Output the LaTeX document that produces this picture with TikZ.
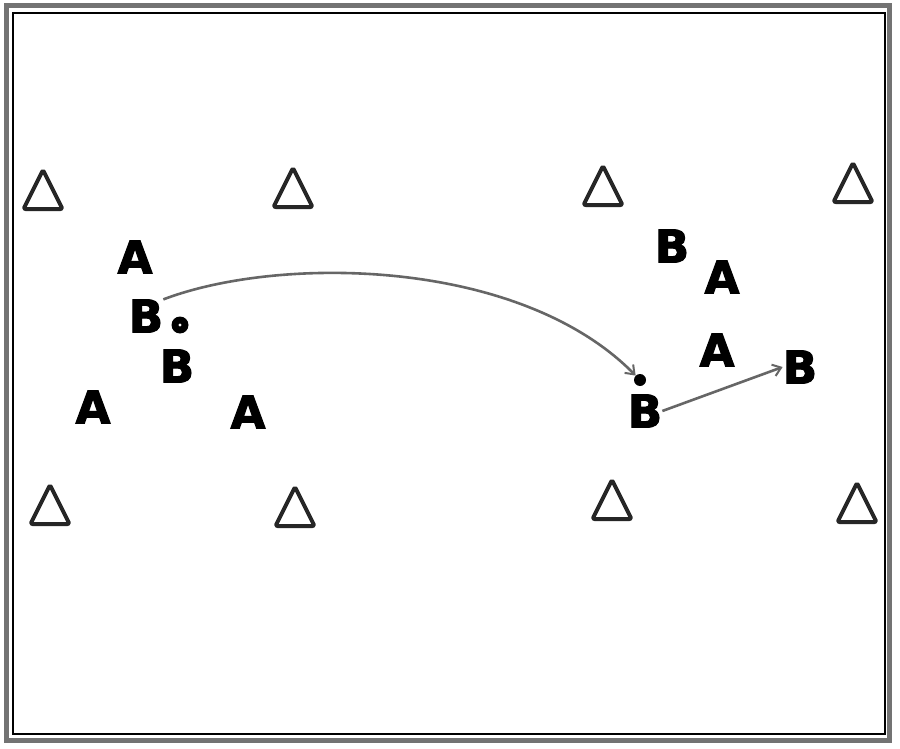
\documentclass[tikz,border=0pt]{standalone}
\usepackage{fontspec}
\setmainfont[BoldFeatures={FakeBold=2.5}]{DejaVu Sans}
\usetikzlibrary{arrows.meta,calc}
\begin{document}
\begin{tikzpicture}[x=1pt,y=-1pt,
  player/.style={inner sep=0pt, font=\fontsize{45}{45}\bfseries\selectfont},
  cone/.style={draw=black!85, line width=4pt, rounded corners=2pt, line join=round},
  ball/.style={circle, fill=black, inner sep=0pt},
  pass/.style={draw=black!60, line width=2.6pt, -{Straight Barb[length=8pt,width=12pt,line width=2pt]}}]
\useasboundingbox (0,0) rectangle (900,749);
\fill[white] (0,0) rectangle (900,749);
% frame
\draw[black!55, line width=5pt] (6,6) rectangle (889,740);
\draw[black, line width=1.8pt] (13,13) rectangle (885,734);
% cones
\foreach \n/\x/\y in {c1/43/190, c2/293/188, c3/603/186, c4/853/183, c5/50/505, c6/295/507, c7/612/500, c8/857/503}{
  \coordinate (\n) at (\x,\y);
  \draw[cone] ($(\n)+(0,-20)$) -- ($(\n)+(19.5,19)$) -- ($(\n)+(-19.5,19)$) -- cycle;
}
% players
\node[player] (a1) at (135,257) {A};
\node[player] (b1) at (146,316) {B};
\node[ball, minimum size=17pt] (ball1) at (180,325) {};
\fill[white] (ball1.center) circle (1.6pt);
\node[player] (b2) at (177,366) {B};
\node[player] (a2) at (93,407) {A};
\node[player] (a3) at (248,412) {A};
\node[player] (b3) at (672,246) {B};
\node[player] (a4) at (722,277) {A};
\node[player] (a5) at (717,350) {A};
\node[player] (b4) at (800,367) {B};
\node[player] (b5) at (645,411) {B};
\node[ball, minimum size=12pt] (ball2) at (640,380) {};
% passes
\draw[pass] (b1.north east) .. controls (280,255) and (520,258) .. (ball2);
\draw[pass] (b5.east) -- (b4.west);
\end{tikzpicture}
\end{document}
